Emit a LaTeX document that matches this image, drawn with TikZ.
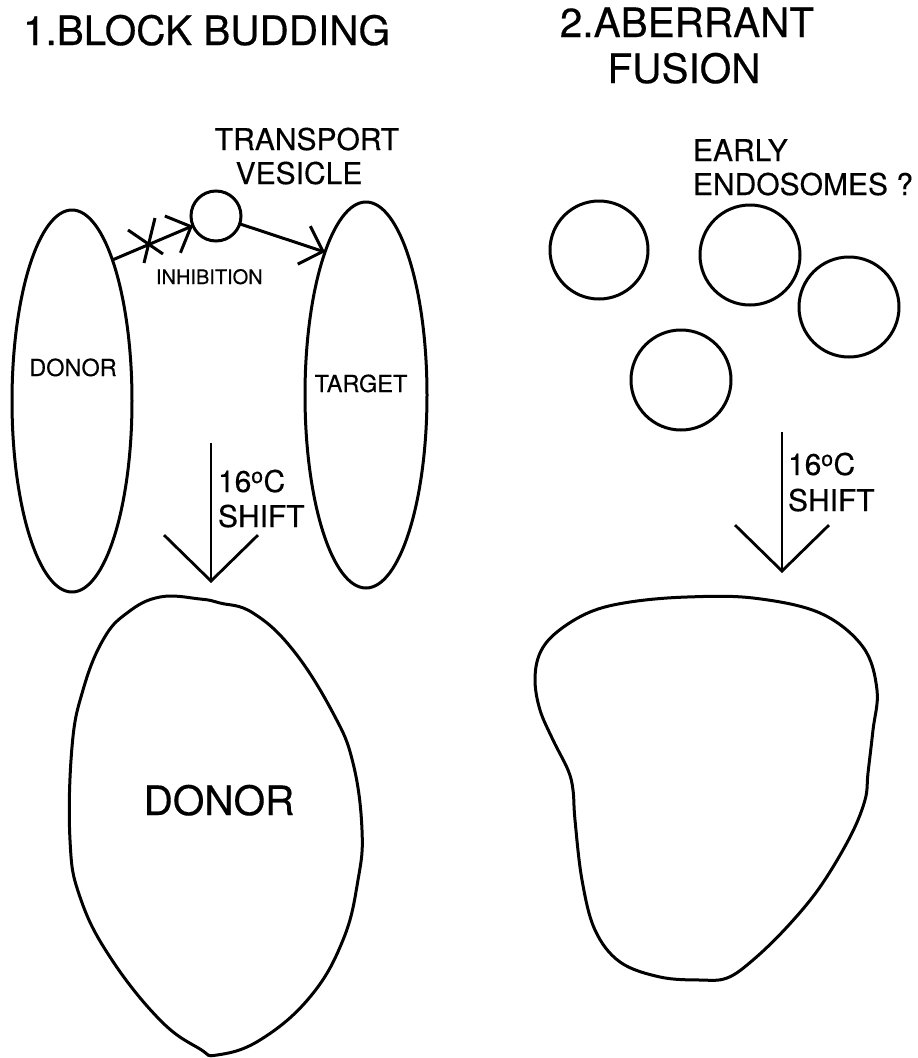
\documentclass[tikz,border=0pt]{standalone}
\usepackage{fontspec}
\setmainfont{TeX Gyre Heros}[FakeBold=0.35]
\usetikzlibrary{shapes.geometric, arrows.meta}
\newcommand\FTitle{\fontsize{40.5}{48}\selectfont}
\newcommand\FMid{\fontsize{30}{36}\selectfont}
\newcommand\FSmall{\fontsize{23.5}{28}\selectfont}
\newcommand\FTiny{\fontsize{20}{24}\selectfont}
\begin{document}
\begin{tikzpicture}[x=1pt, y=-1pt, line width=3pt,
  txt/.style={inner sep=0pt, outer sep=0pt},
  membrane/.style={draw, ellipse, inner sep=0pt, outer sep=0pt},
  vesic/.style={draw, circle, inner sep=0pt, outer sep=0pt},
  barb/.style={-{Straight Barb[length=20pt, width=40pt]}},
  shiftarrow/.style={-{Straight Barb[length=46pt, width=94pt]}, line width=2.8pt},
  blob/.style={draw, line width=3pt}]
\fill[white] (0,0) rectangle (918,1058);
\useasboundingbox (0,0) rectangle (918,1058);

% titles
\node[txt, anchor=base west, font=\FTitle] (t1) at (23,45) {1.BLOCK BUDDING};
\node[txt, anchor=base, font=\FTitle] (t2a) at (687,37) {2.ABERRANT};
\node[txt, anchor=base, font=\FTitle] (t2b) at (684,83) {FUSION};

% panel 1
\node[membrane, minimum width=120pt, minimum height=382pt] (donor) at (72,401) {};
\node[membrane, minimum width=122pt, minimum height=386pt] (tgt) at (366,395) {};
\node[vesic, minimum size=50pt] (ves) at (216,216) {};
\node[txt, anchor=base, font=\FMid] (tv1) at (307,150) {TRANSPORT};
\node[txt, anchor=base, font=\FMid] (tv2) at (299,184) {VESICLE};
\node[txt, anchor=base west, font=\FTiny] (inh) at (156,284) {INHIBITION};
\node[txt, anchor=base, font=\FSmall] (dl) at (73,376) {DONOR};
\node[txt, anchor=base, font=\FSmall] (tl) at (361,392) {TARGET};

\draw[barb] (donor.74) -- (ves);
\draw[barb] (ves) -- (tgt.106);
% inhibition cross
\draw (128,230) -- (163,254);
\draw (155,218) -- (144,263);

\coordinate (s1a) at (211,443);
\coordinate (s1b) at (211,583);
\draw[shiftarrow] (s1a) -- (s1b);
\node[txt, anchor=base west, font=\FMid] (sh1a) at (218,492) {16\textsuperscript{o}C};
\node[txt, anchor=base west, font=\FMid] (sh1b) at (218,527) {SHIFT};

\draw[blob] plot[smooth cycle, tension=0.7] coordinates {
 (160,597) (200,599) (220,603) (253,613) (293,650) (333,713) (353,763)
 (362,830) (358,880) (343,940) (310,997) (260,1040) (217,1055) (200,1049)
 (160,1020) (110,957) (80,897) (70,840) (72,747) (83,690) (103,640) (127,613)};
\node[txt, anchor=base, font=\FTitle] (dbig) at (219,815) {DONOR};

% panel 2
\node[txt, anchor=base west, font=\FMid] (ee1) at (693,161) {EARLY};
\node[txt, anchor=base west, font=\FMid] (ee2) at (693,195) {ENDOSOMES ?};
\node[vesic, minimum size=98pt] (ea) at (599,250) {};
\node[vesic, minimum size=100pt] (eb) at (750,255) {};
\node[vesic, minimum size=100pt] (ec) at (849,307) {};
\node[vesic, minimum size=100pt] (ed) at (681,380) {};

\coordinate (s2a) at (782,432);
\coordinate (s2b) at (782,573);
\draw[shiftarrow] (s2a) -- (s2b);
\node[txt, anchor=base west, font=\FMid] (sh2a) at (788,475) {16\textsuperscript{o}C};
\node[txt, anchor=base west, font=\FMid] (sh2b) at (788,511) {SHIFT};

\draw[blob] plot[smooth cycle, tension=0.6] coordinates {
 (687,597) (753,598) (820,613) (863,647) (877,690) (873,730) (868,773)
 (865,800) (850,837) (820,887) (787,927) (753,960) (727,978) (700,980)
 (660,977) (620,962) (595,930) (582,880) (575,820) (573,790) (568,770)
 (553,740) (540,710) (535,680) (540,653) (557,632) (590,612) (630,602)};
\end{tikzpicture}
\end{document}
